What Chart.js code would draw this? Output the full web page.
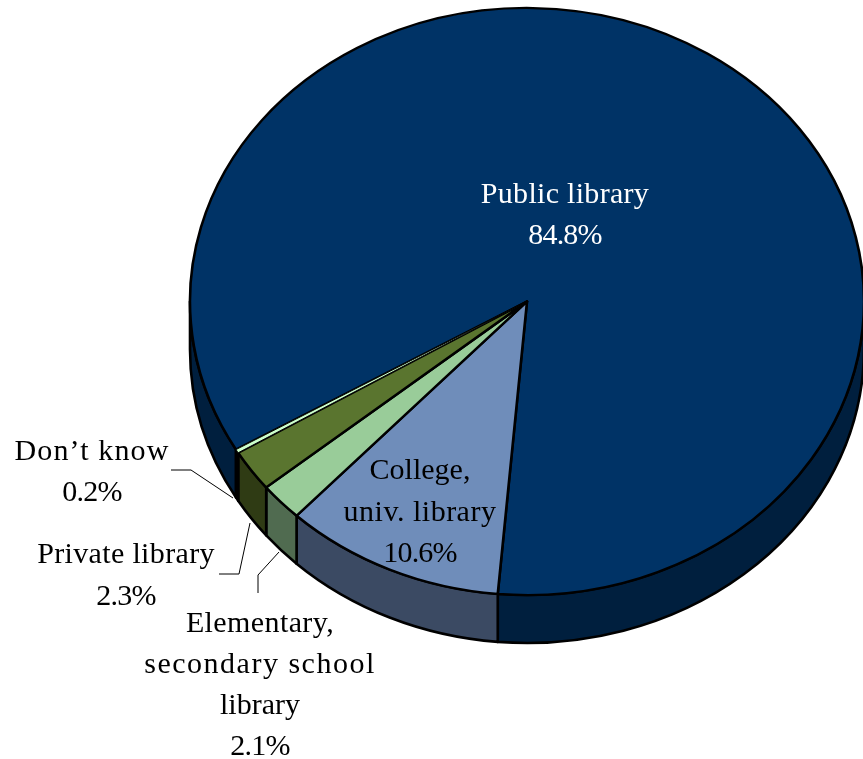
<!DOCTYPE html>
<html lang="en">
<head>
<meta charset="UTF-8">
<title>Library types</title>
<script src="https://cdn.jsdelivr.net/npm/chart.js"></script>
<style>
    html, body { margin: 0; padding: 0; background: #ffffff; overflow: hidden; }
    #wrap { width: 863px; height: 759px; }
</style>
</head>
<body>
<div id="wrap"><canvas id="pie" width="863" height="759"></canvas></div>
<script>
const categories = ["Public library", "College, univ. library", "Elementary, secondary school library", "Private library", "Don\u2019t know"];
const shares = [84.8, 10.6, 2.1, 2.3, 0.2];
const topColors = ["#003366", "#6f8dba", "#99cc99", "#5a752f", "#ccffcc"];
const sideColors = ["#001f3e", "#3b4a63", "#506b50", "#2f3b14", "#7c9c7c"];

// wrapped label text for each slice, and the tracking each line is set with
const labelLines = [
    ["Public library"],
    ["College,", "univ. library"],
    ["Elementary,", "secondary school", "library"],
    ["Private library"],
    ["Don\u2019t know"]
];
const lineTracking = [
    [0.3],
    [0, 0.5],
    [0.4, 1.5, 0],
    [0.35],
    [1.15]
];
const percentTracking = -0.8;
// centre x and first baseline of each label block
const labelSpots = [
    { x: 565, y: 203, color: "#ffffff", step: 41 },
    { x: 420, y: 479, color: "#000000", step: 41.5 },
    { x: 260, y: 632, color: "#000000", step: 41 },
    { x: 126, y: 563, color: "#000000", step: 42 },
    { x: 92, y: 460, color: "#000000", step: 41 }
];
const leaders = [
    [[171, 470], [191, 470], [233, 498]],
    [[219, 574], [239, 574], [250, 523]],
    [[258, 593], [258, 575], [279, 552]]
];

// where the disc sits on the page and how far it is tipped
const discX = 527, discY = 301.5, tilt = 0.871, wallDepth = 48, edgeWidth = 2.6;

function inDisc(ctx, el) {
    ctx.translate(discX, discY);
    ctx.scale(1, tilt);
    ctx.translate(-el.x, -el.y);
}

// front wall of one slice, limited to the part of the rim facing the viewer
function drawWall(ctx, el, color) {
    const r = el.outerRadius, ry = r * tilt;
    for (let k = -1; k <= 1; k++) {
        const a = Math.max(el.startAngle + k * 2 * Math.PI, 0);
        const b = Math.min(el.endAngle + k * 2 * Math.PI, Math.PI);
        if (b <= a) continue;
        ctx.beginPath();
        ctx.ellipse(discX, discY, r, ry, 0, a, b);
        ctx.ellipse(discX, discY + wallDepth, r, ry, 0, b, a, true);
        ctx.closePath();
        ctx.fillStyle = color;
        ctx.fill();
        ctx.lineWidth = edgeWidth;
        ctx.lineJoin = "round";
        ctx.strokeStyle = "#000000";
        ctx.stroke();
    }
}

const tiltedPie = {
    id: "tiltedPie",
    beforeDatasetsDraw(chart) {
        const ctx = chart.ctx;
        const arcs = chart.getDatasetMeta(0).data;
        arcs.forEach((el, i) => drawWall(ctx, el, sideColors[i]));
        ctx.save();
        inDisc(ctx, arcs[0]);
    },
    afterDatasetsDraw(chart) {
        const ctx = chart.ctx;
        ctx.restore();

        ctx.lineWidth = 1;
        ctx.strokeStyle = "#000000";
        leaders.forEach(pts => {
            ctx.beginPath();
            pts.forEach((p, i) => i ? ctx.lineTo(p[0], p[1]) : ctx.moveTo(p[0], p[1]));
            ctx.stroke();
        });

        ctx.font = "30px 'Liberation Serif'";
        ctx.textAlign = "center";
        ctx.textBaseline = "alphabetic";
        shares.forEach((v, i) => {
            const spot = labelSpots[i];
            ctx.fillStyle = spot.color;
            const lines = labelLines[i];
            lines.forEach((line, n) => {
                ctx.letterSpacing = lineTracking[i][n] + "px";
                ctx.fillText(line, spot.x, spot.y + n * spot.step);
            });
            ctx.letterSpacing = percentTracking + "px";
            ctx.fillText(v.toFixed(1) + "%", spot.x, spot.y + lines.length * spot.step);
        });
        ctx.letterSpacing = "0px";
    }
};

new Chart(document.getElementById("pie"), {
    type: "pie",
    data: {
        labels: categories,
        datasets: [{
            data: shares,
            backgroundColor: topColors,
            borderColor: "#000000",
            // the sliver is drawn last with a fine edge so its fill stays visible
            borderWidth: [edgeWidth, edgeWidth, edgeWidth, edgeWidth, 1],
            borderJoinStyle: "round"
        }]
    },
    options: {
        responsive: false,
        animation: false,
        rotation: 239.7,
        radius: 337,
        plugins: { legend: { display: false }, tooltip: { enabled: false } }
    },
    plugins: [tiltedPie]
});
</script>
</body>
</html>
